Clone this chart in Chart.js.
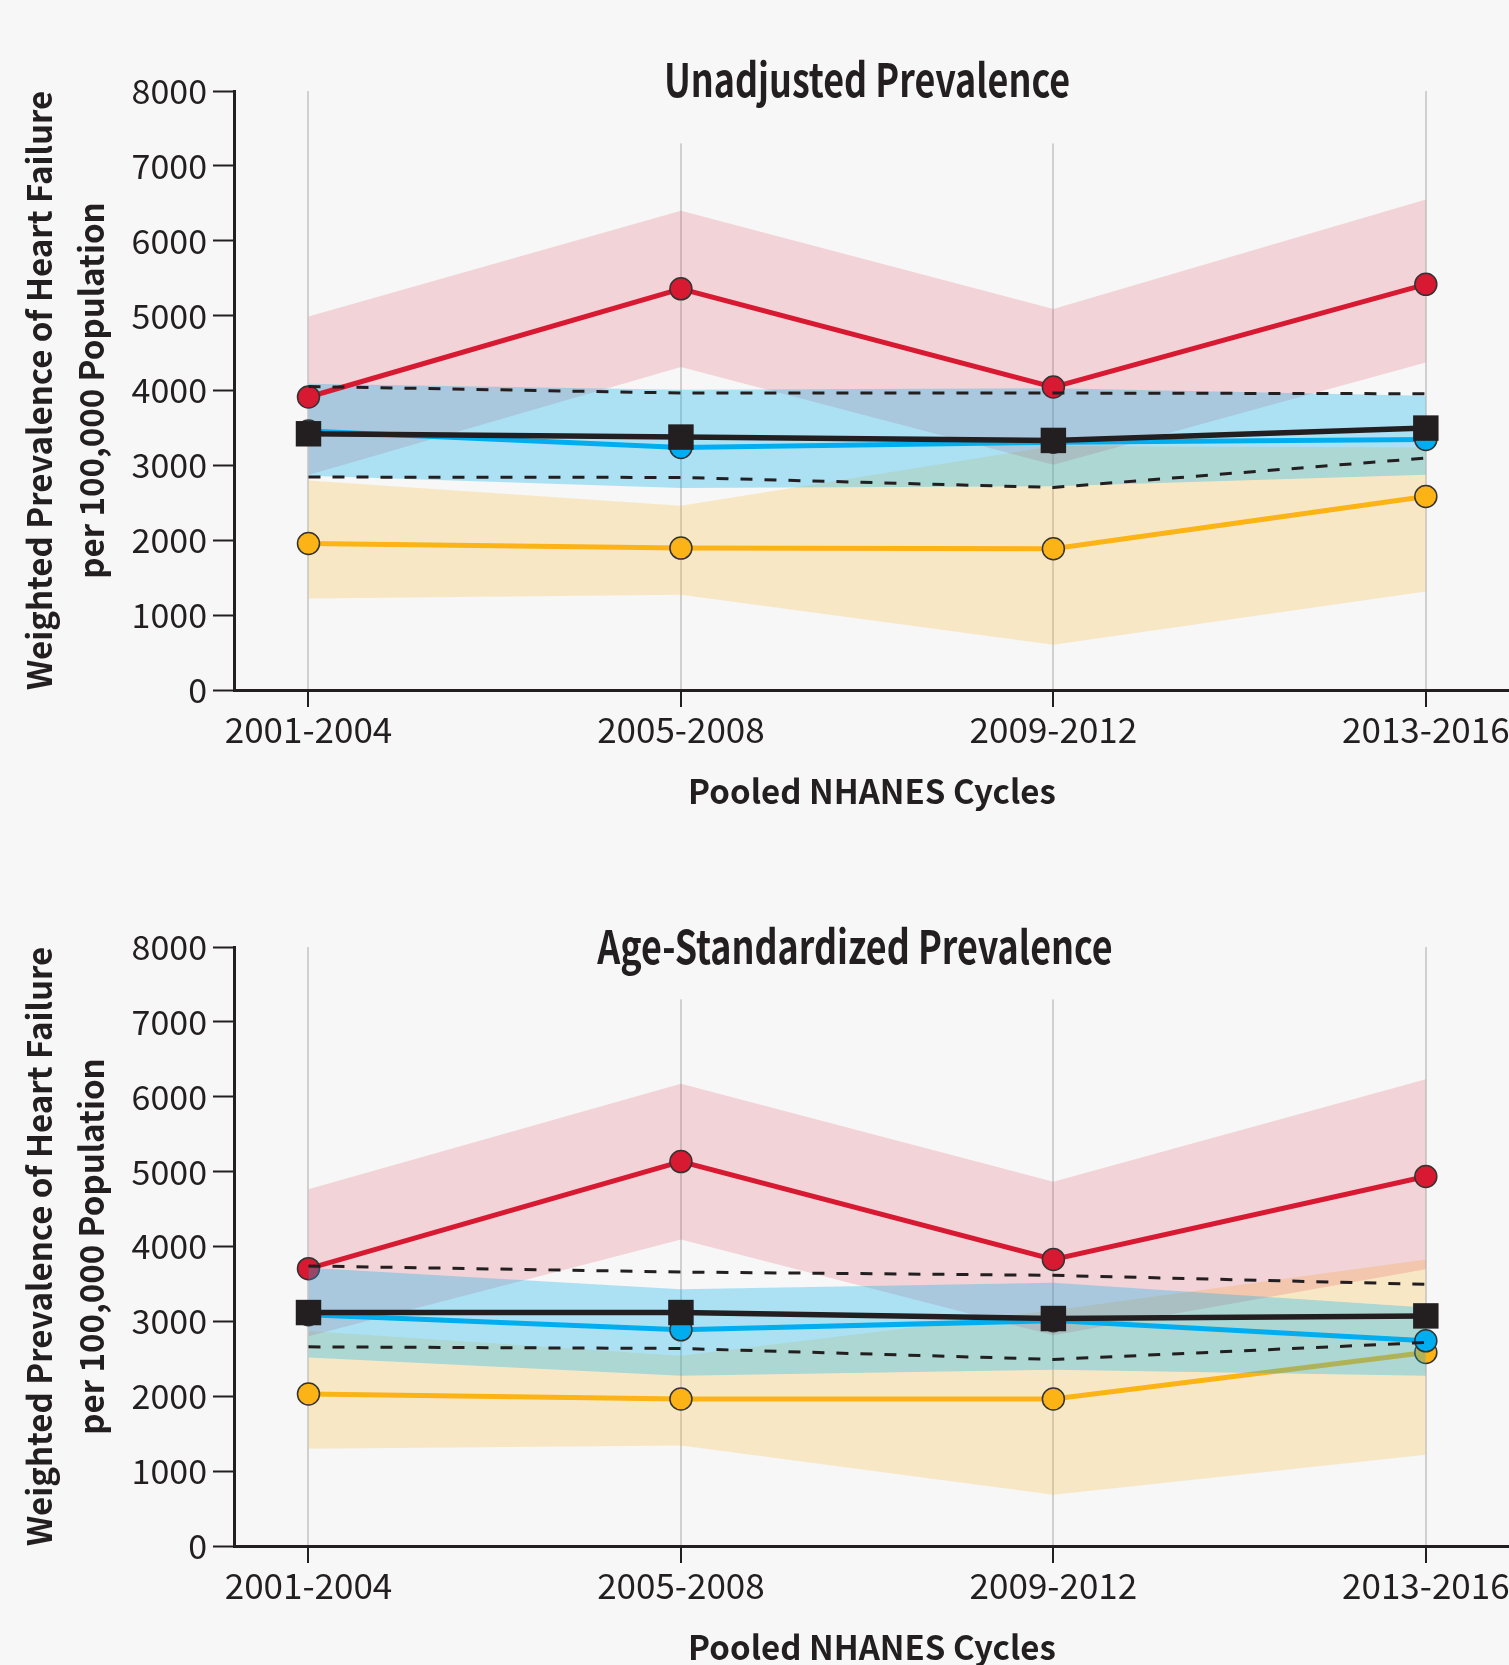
<!DOCTYPE html>
<html>
<head>
<meta charset="utf-8">
<script src="https://cdn.jsdelivr.net/npm/chart.js@4"></script>
<style>
  html, body { margin: 0; padding: 0; background: #f7f7f7; overflow: hidden; }
  .panel { position: absolute; left: 0; width: 1509px; height: 856px; overflow: hidden; }
  #p1 { top: 0; }
  #p2 { top: 856px; }
</style>
</head>
<body>
<div class="panel" id="p1"><canvas id="c1" width="1528" height="856"></canvas></div>
<div class="panel" id="p2"><canvas id="c2" width="1528" height="856"></canvas></div>
<script>
// ---------- DATA ----------
const cycles = ['2001-2004', '2005-2008', '2009-2012', '2013-2016'];
const yTicks = [0, 1000, 2000, 3000, 4000, 5000, 6000, 7000, 8000];

// Unadjusted prevalence
const unadjOverall      = [3422, 3378, 3333, 3498];
const unadjOverallUpper = [4054, 3966, 3966, 3957];
const unadjOverallLower = [2844, 2839, 2705, 3098];
const unadjRed        = [3913, 5358, 4046, 5418];
const unadjRedUpper   = [4988, 6400, 5090, 6550];
const unadjRedLower   = [2870, 4315, 3010, 4374];
const unadjBlue       = [3460, 3240, 3310, 3346];
const unadjBlueUpper  = [4090, 4010, 4030, 3930];
const unadjBlueLower  = [2860, 2697, 2720, 2875];
const unadjYellow      = [1957, 1895, 1886, 2585];
const unadjYellowUpper = [2799, 2461, 3260, 3240];
const unadjYellowLower = [1223, 1272, 604, 1316];

// Age-standardized prevalence
const ageOverall      = [3118, 3118, 3038, 3073];
const ageOverallUpper = [3740, 3659, 3615, 3495];
const ageOverallLower = [2660, 2638, 2492, 2718];
const ageRed        = [3704, 5134, 3828, 4935];
const ageRedUpper   = [4766, 6174, 4866, 6234];
const ageRedLower   = [2800, 4094, 2815, 3695];
const ageBlue       = [3090, 2887, 3010, 2740];
const ageBlueUpper  = [3717, 3428, 3517, 3185];
const ageBlueLower  = [2519, 2274, 2354, 2274];
const ageYellow      = [2030, 1964, 1964, 2585];
const ageYellowUpper = [2873, 2540, 3150, 3828];
const ageYellowLower = [1298, 1342, 686, 1218];

// ---------- STYLE ----------
const BG = '#f7f7f7';
const INK = '#231f20';
const RED = '#d71a32', BLUE = '#00aeef', YELLOW = '#fbb316';
const RED_BAND = 'rgba(215,26,50,0.16)';
const BLUE_BAND = 'rgba(0,174,239,0.30)';
const YELLOW_BAND = 'rgba(251,179,22,0.22)';
const FONT = "'Noto Sans CJK SC', 'Noto Sans', sans-serif";

const pts = arr => arr.map((v, i) => ({ x: i, y: v }));

function band(up, lo, color, order) {
  return [
    { data: pts(up), fill: '+1', backgroundColor: color, borderWidth: 0, pointRadius: 0, order: order },
    { data: pts(lo), fill: false, borderWidth: 0, pointRadius: 0, order: order }
  ];
}
function line(vals, color, order) {
  return { data: pts(vals), fill: false, borderColor: color, borderWidth: 5, tension: 0,
           pointRadius: 11, pointBackgroundColor: color, pointBorderColor: '#333333',
           pointBorderWidth: 1.5, order: order };
}
function dashed(vals, order) {
  return { data: pts(vals), fill: false, borderColor: INK, borderWidth: 3, borderDash: [12, 12],
           pointRadius: 0, tension: 0, order: order };
}
function overall(vals, order) {
  return { data: pts(vals), fill: false, borderColor: INK, borderWidth: 5.5, tension: 0,
           pointStyle: 'rect', pointRadius: 18, pointBackgroundColor: INK, pointBorderWidth: 0, order: order };
}

const panelTitle = {
  id: 'panelTitle',
  beforeDatasetsDraw(chart, args, opts) {
    const { ctx, scales } = chart;
    const xs = scales.x, ys = scales.y;
    ctx.save();
    // gridlines of the middle cycles stop below the title
    const x0 = xs.getPixelForValue(0.5), x1 = xs.getPixelForValue(2.5);
    ctx.fillStyle = BG;
    ctx.fillRect(x0, 0, x1 - x0, ys.getPixelForValue(opts.gridStop));
    // condensed bold title
    ctx.fillStyle = INK;
    ctx.font = 'bold 46px ' + FONT;
    ctx.textAlign = 'center';
    ctx.textBaseline = 'middle';
    ctx.translate(opts.x, opts.y);
    ctx.scale(0.78, 1);
    ctx.fillText(opts.text, 0, 0);
    ctx.restore();
  }
};

function makeChart(id, title, titleX, titleY, s, interleave) {
  const o = interleave
    ? { yb: 30, yl: 29, rb: 28, rl: 27, bb: 26, bl: 25 }
    : { yb: 30, rb: 29, bb: 28, yl: 20, rl: 19, bl: 18 };
  const datasets = [
    ...band(s.yU, s.yL, YELLOW_BAND, o.yb),
    ...band(s.rU, s.rL, RED_BAND, o.rb),
    ...band(s.bU, s.bL, BLUE_BAND, o.bb),
    line(s.y, YELLOW, o.yl),
    line(s.r, RED, o.rl),
    line(s.b, BLUE, o.bl),
    dashed(s.oU, 12),
    dashed(s.oL, 11),
    overall(s.o, 10)
  ];
  return new Chart(document.getElementById(id), {
    type: 'line',
    data: { datasets },
    plugins: [panelTitle],
    options: {
      responsive: false,
      devicePixelRatio: 1,
      animation: false,
      events: [],
      layout: { padding: { top: 91, left: 0, right: 0, bottom: 0 } },
      plugins: {
        legend: { display: false },
        tooltip: { enabled: false },
        panelTitle: { text: title, x: titleX, y: titleY, gridStop: 7300 }
      },
      scales: {
        x: {
          type: 'linear',
          min: -0.2,
          max: 3.226,
          afterBuildTicks: sc => { sc.ticks = cycles.map((c, i) => ({ value: i })); },
          afterFit: sc => { sc.height = 166; },
          ticks: {
            callback: v => cycles[v],
            autoSkip: false, maxRotation: 0, padding: 2,
            color: INK, font: { family: FONT, size: 35 }
          },
          grid: { display: true, drawOnChartArea: true, color: 'rgba(170,170,170,0.5)', lineWidth: 2,
                  tickColor: INK, tickLength: 17, tickWidth: 2 },
          border: { display: true, color: INK, width: 3 },
          title: { display: true, text: 'Pooled NHANES Cycles', color: INK,
                   font: { family: FONT, size: 33, weight: 'bold', lineHeight: '44px' },
                   padding: { top: 0, bottom: 43 } }
        },
        y: {
          type: 'linear',
          min: 0,
          max: 8000,
          afterBuildTicks: sc => { sc.ticks = yTicks.map(v => ({ value: v })); },
          afterFit: sc => { sc.width = 234; },
          ticks: { callback: v => String(v), padding: 6, color: INK, font: { family: FONT, size: 34 } },
          grid: { drawOnChartArea: false, tickColor: INK, tickLength: 21, tickWidth: 2 },
          border: { display: true, color: INK, width: 3 },
          title: { display: true, color: INK,
                   text: ['Weighted Prevalence of Heart Failure', 'per 100,000 Population'],
                   font: { family: FONT, size: 33, weight: 'bold', lineHeight: '52px' },
                   padding: { top: 13, bottom: 0 } }
        }
      }
    }
  });
}

makeChart('c1', 'Unadjusted Prevalence', 867, 80, {
  o: unadjOverall, oU: unadjOverallUpper, oL: unadjOverallLower,
  r: unadjRed, rU: unadjRedUpper, rL: unadjRedLower,
  b: unadjBlue, bU: unadjBlueUpper, bL: unadjBlueLower,
  y: unadjYellow, yU: unadjYellowUpper, yL: unadjYellowLower
}, false);

makeChart('c2', 'Age-Standardized Prevalence', 855, 91, {
  o: ageOverall, oU: ageOverallUpper, oL: ageOverallLower,
  r: ageRed, rU: ageRedUpper, rL: ageRedLower,
  b: ageBlue, bU: ageBlueUpper, bL: ageBlueLower,
  y: ageYellow, yU: ageYellowUpper, yL: ageYellowLower
}, true);
</script>
</body>
</html>
